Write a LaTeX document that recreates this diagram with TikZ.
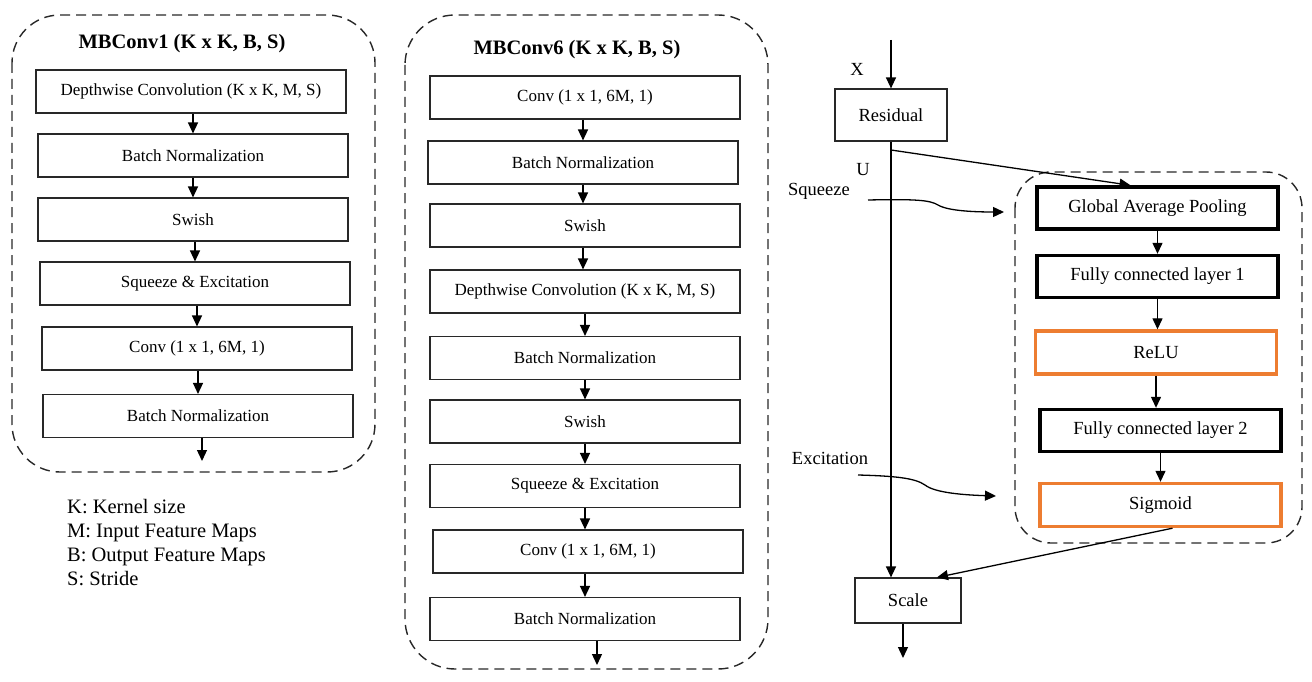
\documentclass[tikz,border=0pt]{standalone}
\usepackage{fontspec}
\setmainfont{Liberation Serif}
\usetikzlibrary{arrows.meta}
\definecolor{orng}{RGB}{237,125,49}
\definecolor{dk}{RGB}{40,40,40}
\newcommand{\fsA}{\fontsize{17}{20}\selectfont}
\newcommand{\fsB}{\fontsize{18.5}{22}\selectfont}
\newcommand{\fsT}{\fontsize{20.5}{24}\selectfont\bfseries}
\newcommand{\fsL}{\fontsize{20.5}{23.7}\selectfont}
\begin{document}
\begin{tikzpicture}[x=1pt,y=-1pt,
  blk/.style={draw=dk, line width=1.1pt, minimum width=310pt, minimum height=43pt, inner sep=0pt, font=\fsA},
  seblk/.style={draw=black, line width=3.4pt, minimum width=241pt, minimum height=42pt, inner sep=0pt, font=\fsB},
  orblk/.style={draw=orng, line width=3.4pt, minimum width=241pt, minimum height=43pt, inner sep=0pt, font=\fsB},
  smblk/.style={draw=dk, line width=1.2pt, inner sep=0pt, font=\fsB},
  lbl/.style={inner sep=0pt, font=\fsB},
  outer/.style={draw=dk, line width=1.4pt, dash pattern=on 10pt off 6pt},
  arr/.style={draw=black, line width=1.3pt, -{Triangle[length=11pt,width=10pt]}}]
\useasboundingbox (0,0) rectangle (1312,682);

% ---------- MBConv1 ----------
\draw[outer, rounded corners=48pt] (12,15) rectangle (375,472);
\node[inner sep=0pt, font=\fsT] (t1) at (182,44) {MBConv1 (K x K, B, S)};
\node[blk] (a1) at (191,91.5) {Depthwise Convolution (K x K, M, S)};
\node[blk] (a2) at (193,155.5) {Batch Normalization};
\node[blk] (a3) at (193,219.5) {Swish};
\node[blk] (a4) at (195,283.5) {Squeeze \& Excitation};
\node[blk] (a5) at (197,348.5) {Conv (1 x 1, 6M, 1)};
\node[blk] (a6) at (198,416) {Batch Normalization};
\coordinate (ao) at (202,461);
\draw[arr] (a1.south -| a2) -- (a2.north);
\draw[arr] (a2.south -| a3) -- (a3.north);
\draw[arr] (a3.south -| a4) -- (a4.north);
\draw[arr] (a4.south -| a5) -- (a5.north);
\draw[arr] (a5.south -| a6) -- (a6.north);
\draw[arr] (a6.south -| ao) -- (ao);

\node[anchor=west, align=left, inner sep=0pt, font=\fsL] (leg) at (67,542.5)
  {K: Kernel size\\M: Input Feature Maps\\B: Output Feature Maps\\S: Stride};

% ---------- MBConv6 ----------
\draw[outer, rounded corners=50pt] (405,15) rectangle (768,669);
\node[inner sep=0pt, font=\fsT] (t6) at (577,50) {MBConv6 (K x K, B, S)};
\node[blk] (c1) at (585,97.5) {Conv (1 x 1, 6M, 1)};
\node[blk] (c2) at (583,162.5) {Batch Normalization};
\node[blk] (c3) at (585,225.5) {Swish};
\node[blk] (c4) at (585,291.5) {Depthwise Convolution (K x K, M, S)};
\node[blk] (c5) at (585,358) {Batch Normalization};
\node[blk] (c6) at (585,421.5) {Swish};
\node[blk] (c7) at (585,486) {Squeeze \& Excitation};
\node[blk] (c8) at (588,551.5) {Conv (1 x 1, 6M, 1)};
\node[blk] (c9) at (585,619) {Batch Normalization};
\coordinate (co) at (597,665);
\draw[arr] (c1.south -| c2) -- (c2.north);
\draw[arr] (c2.south -| c2) -- (c3.north -| c2);
\draw[arr] (c3.south -| c2) -- (c4.north -| c2);
\draw[arr] (c4.south) -- (c5.north);
\draw[arr] (c5.south) -- (c6.north);
\draw[arr] (c6.south) -- (c7.north);
\draw[arr] (c7.south) -- (c7.south |- c8.north);
\draw[arr] (c8.south -| c7) -- (c9.north);
\draw[arr] (c9.south -| co) -- (co);

% ---------- SE block ----------
\draw[outer, rounded corners=36pt] (1015,172) rectangle (1302,543);
\node[smblk, minimum width=112pt, minimum height=52pt] (res) at (891,115) {Residual};
\node[smblk, minimum width=106pt, minimum height=45pt] (scl) at (908,600.5) {Scale};
\node[seblk] (gap) at (1157.5,208) {Global Average Pooling};
\node[seblk] (fc1) at (1157.5,276.5) {Fully connected layer 1};
\node[orblk] (relu) at (1156,352.5) {ReLU};
\node[seblk] (fc2) at (1160.5,430.5) {Fully connected layer 2};
\node[orblk] (sig) at (1160.5,505) {Sigmoid};

\node[lbl] (xl) at (857,69) {X};
\node[lbl] (ul) at (863,170) {U};
\node[lbl] (sql) at (819,191) {Squeeze};
\node[lbl] (exl) at (830,458) {Excitation};

\coordinate (xin) at (891,40);
\coordinate (u) at (891,150);
\coordinate (so) at (903,658);
\draw[arr] (xin) -- (res.north);
\draw[arr] (res.south) -- (res.south |- scl.north);
\draw[arr] (u) -- ([xshift=-27pt]gap.north);
\draw[arr] (gap.south -| fc1) -- (fc1.north);
\draw[arr] (fc1.south) -- (fc1.south |- relu.north);
\draw[arr] (relu.south) -- (relu.south |- fc2.north);
\draw[arr] (fc2.south) -- (sig.north);
\draw[arr] ([xshift=12pt]sig.south) -- ([xshift=29pt]scl.north);
\draw[arr] (scl.south -| so) -- (so);

\coordinate (sqa) at (868,200);
\coordinate (sqb) at (1004,212);
\draw[arr] (sqa) .. controls (915,199) and (930,200) .. (938,205)
  .. controls (948,211) and (975,212) .. (sqb);
\coordinate (exa) at (858,475);
\coordinate (exb) at (996,496);
\draw[arr] (exa) .. controls (895,476) and (915,478) .. (925,485)
  .. controls (935,493) and (965,495) .. (exb);
\end{tikzpicture}
\end{document}
